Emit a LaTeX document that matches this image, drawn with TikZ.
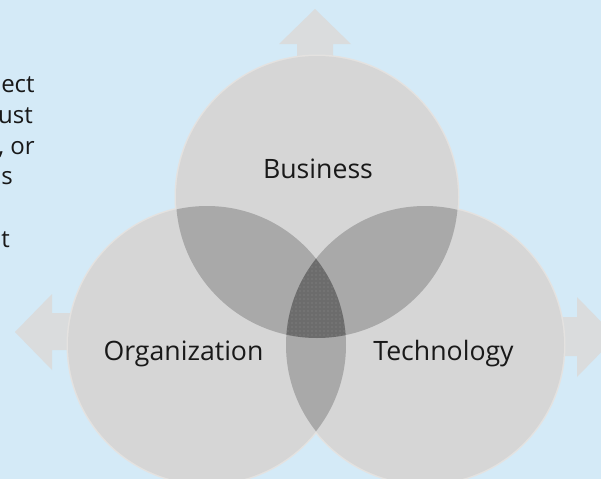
\documentclass[tikz,border=0pt]{standalone}
\usepackage{fontspec}
\setmainfont{Open Sans}
\usepackage{xcolor}
\usepackage{tikz}
\usetikzlibrary{patterns}

\definecolor{skyback}{HTML}{D4EAF7}
\definecolor{ringgray}{HTML}{D6D6D6}
\definecolor{halogray}{HTML}{E4E2E0}
\definecolor{pairgray}{HTML}{A9A9A9}
\definecolor{coregray}{HTML}{6C6C6C}
\definecolor{arrowgray}{HTML}{DADCDD}

\begin{document}
\begin{tikzpicture}[x=0.75pt,y=0.75pt,yscale=-1,xscale=1,
  ring/.style={fill=ringgray},
  halo/.style={fill=halogray},
  pair/.style={fill=pairgray},
  venntext/.style={anchor=base,inner sep=0.75pt,font=\fontsize{20}{24}\selectfont,text=black!90},
  fragtext/.style={anchor=base east,inner sep=0pt,font=\fontsize{18}{22}\selectfont,text=black!90}]
\useasboundingbox (0,0) rectangle (601,479);
\fill[skyback] (0,0) rectangle (601,479);
\clip (0,0) rectangle (601,479);

% circle centres
\coordinate (bizc) at (317,197);
\coordinate (orgc) at (207,345);
\coordinate (tecc) at (425,345);

% arrows
\fill[arrowgray] (297,80) -- (297,44) -- (279,44) -- (315,9) -- (351,44) -- (333,44) -- (333,80) -- cycle ;
\fill[arrowgray] (95,313) -- (52,313) -- (52,294) -- (15,332) -- (52,370) -- (52,350) -- (95,350) -- cycle ;
\fill[arrowgray] (530,317) -- (577,317) -- (577,297) -- (616,337) -- (577,377) -- (577,356) -- (530,356) -- cycle ;

% circles
\fill[halo] (bizc) circle (142.5) ;
\fill[halo] (orgc) circle (140.5) ;
\fill[halo] (tecc) circle (140.5) ;
\fill[ring] (bizc) circle (141) ;
\fill[ring] (orgc) circle (139) ;
\fill[ring] (tecc) circle (139) ;

% overlaps
\begin{scope}
\clip (bizc) circle (141) ;
\fill[pair] (orgc) circle (139) ;
\fill[pair] (tecc) circle (139) ;
\end{scope}
\begin{scope}
\clip (orgc) circle (139) ;
\fill[pair] (tecc) circle (139) ;
\end{scope}
\begin{scope}
\clip (bizc) circle (141) ;
\clip (orgc) circle (139) ;
\fill[coregray] (tecc) circle (139) ;
\fill[pattern=dots,pattern color=black!45] (tecc) circle (139) ;
\end{scope}

% labels
\node[venntext] (business) at (318,178) {Business};
\node[venntext] (organization) at (183.5,360) {Organization};
\node[venntext] (technology) at (443.5,360) {Technology};

% cut-off text at the left
\node[fragtext,anchor=base west] (fragect) at (1,92) {ect};
\node[fragtext] (fragust) at (33,123) {ust};
\node[fragtext] (fragor) at (35,154) {, or};
\node[fragtext,anchor=base west] (frags) at (1,184) {s};
\node[fragtext,anchor=base west] (fragt) at (1,247) {t};

\end{tikzpicture}
\end{document}
